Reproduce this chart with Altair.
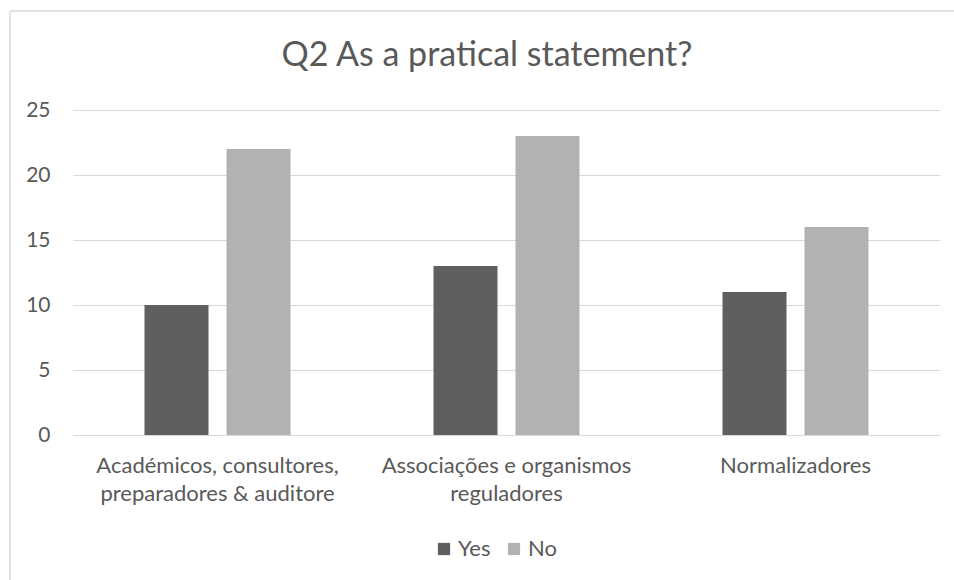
import altair as alt
import pandas as pd

title_text = "Q2 As a pratical statement?"
categories = [
    "Académicos, consultores, preparadores & auditore",
    "Associações e organismos reguladores",
    "Normalizadores",
]
label_lines = {
    "Académicos, consultores, preparadores & auditore": ["Académicos, consultores,", "preparadores & auditore"],
    "Associações e organismos reguladores": ["Associações e organismos", "reguladores"],
    "Normalizadores": ["Normalizadores"],
}
series = ["Yes", "No"]
yes_values = [10, 13, 11]
no_values = [22, 23, 16]
colors = ["#5f5f5f", "#b2b2b2"]

rows = []
for c, y, n in zip(categories, yes_values, no_values):
    rows.append({"category": c, "answer": "Yes", "value": y})
    rows.append({"category": c, "answer": "No", "value": n})
df = pd.DataFrame(rows)

expr = ""
for c in categories:
    lines = label_lines[c]
    arr = "[" + ",".join("'" + l + "'" for l in lines) + "]"
    expr += f"datum.label == '{c}' ? {arr} : "
expr += "datum.label"

FONT = "Lato"
TXT = "#595959"
GRID = "#d9d9d9"
FS = 22

bars = alt.Chart(df).mark_bar().encode(
    x=alt.X("category:N", sort=categories, title=None,
            scale=alt.Scale(paddingInner=0, paddingOuter=0),
            axis=alt.Axis(labelAngle=0, labelExpr=expr, ticks=False, domainColor=GRID,
                          domainWidth=1, labelPadding=20, labelLineHeight=28,
                          labelFontSize=FS, labelColor=TXT, labelFont=FONT, labelLimit=400)),
    xOffset=alt.XOffset("answer:N", sort=series,
                        scale=alt.Scale(paddingInner=0.2195, paddingOuter=0.872)),
    y=alt.Y("value:Q", title=None,
            scale=alt.Scale(domain=[0, 25]),
            axis=alt.Axis(values=[0, 5, 10, 15, 20, 25], domain=False, ticks=False,
                          gridColor=GRID, gridWidth=1, labelPadding=23,
                          labelFontSize=21, labelColor=TXT, labelFont=FONT)),
    color=alt.Color("answer:N", sort=series,
                    scale=alt.Scale(domain=series, range=colors),
                    legend=alt.Legend(title=None, orient="none", direction="horizontal",
                                      legendX=360, legendY=428, symbolType="square",
                                      symbolSize=150, symbolStrokeWidth=0,
                                      labelFontSize=FS, labelColor=TXT, labelFont=FONT,
                                      columnPadding=12, labelOffset=3)),
)

one = pd.DataFrame({"k": [0]})
left_line = alt.Chart(one).mark_rule(color=GRID, strokeWidth=1.5).encode(
    x=alt.value(-63), y=alt.value(-99), y2=alt.value(470))
top_line = alt.Chart(one).mark_rule(color=GRID, strokeWidth=1.5).encode(
    x=alt.value(-63), x2=alt.value(890), y=alt.value(-99))
title = alt.Chart(one).mark_text(font=FONT, fontSize=34, color=TXT, align="center",
                                 baseline="alphabetic").encode(
    x=alt.value(414), y=alt.value(-44), text=alt.value(title_text))

chart = alt.layer(bars, left_line, top_line, title).properties(
    width=867, height=325,
    autosize=alt.AutoSizeParams(type="none"),
    padding={"left": 73, "top": 110, "right": 14, "bottom": 145},
).configure(background="white").configure_view(stroke=None)

chart.save("out.html", embed_options={"renderer": "svg", "actions": False})
